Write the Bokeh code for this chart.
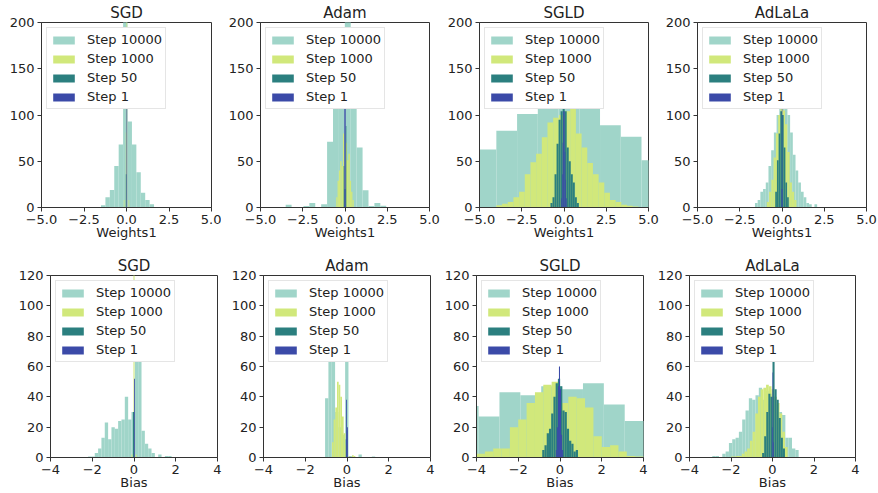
import numpy as np
from bokeh.plotting import figure
from bokeh.layouts import column, row
from bokeh.models import Range1d, FixedTicker
from bokeh.embed import file_html
from bokeh.resources import INLINE

OPTIMIZERS = ["SGD", "Adam", "SGLD", "AdLaLa"]
STEPS = ["Step 10000", "Step 1000", "Step 50", "Step 1"]
COLORS = ["#a0d5c9", "#d1e87b", "#2b7f7f", "#3b4aa8"]

W_XTICKS = [-5.0, -2.5, 0.0, 2.5, 5.0]
W_XLABELS = ["\u22125.0", "\u22122.5", "0.0", "2.5", "5.0"]
W_YTICKS = [0, 50, 100, 150, 200]
B_XTICKS = [-4, -2, 0, 2, 4]
B_XLABELS = ["\u22124", "\u22122", "0", "2", "4"]
B_YTICKS = [0, 20, 40, 60, 80, 100, 120]

# Each histogram: (first bin edge, bin width, counts per bin)
# ---- Weights1 ----
sgd_w_10000 = (-1.5, 0.26, [2.5, 11, 19, 45, 68, 230, 93, 68, 38, 16, 8, 3.6])
sgd_w_1000 = (-0.16, 0.04, [8, 0, 0, 81, 210, 0, 0, 8])
sgd_w_50 = (-0.04, 0.04, [36])
sgd_w_1 = (0.0, 0.04, [120])

adam_w_10000 = (-3.51, 0.35, [3, 0, 0, 1.5, 5, 0, 3.6, 71, 140, 180, 204, 125, 65, 18.6, 1.5, 5, 2])
adam_w_1000 = (-0.52, 0.08, [11, 29, 40, 50, 45, 80, 30, 70, 51, 58, 29, 17, 8])
adam_w_50 = (-0.12, 0.04, [0, 45, 20, 20, 88])
adam_w_1 = (-0.04, 0.08, [115])

sgld_w_10000 = (-5.23, 1.227, [62.6, 83, 101, 110, 112, 108, 89, 76.6, 51])
sgld_w_1000 = (-4.0, 0.336, [2.5, 4, 6, 11, 17, 36, 49, 58, 76, 92, 97, 100, 104, 108,
                             80, 65, 48, 36, 27, 16, 8, 6, 3, 2, 1])
sgld_w_50 = (-0.8, 0.12, [5, 11, 36, 69, 95, 104, 110, 104, 65, 50, 36, 27, 11, 5])
sgld_w_1 = (-0.16, 0.04, [10, 36, 70, 104, 104, 60, 30, 10])

adla_w_10000 = (-1.6, 0.16, [5, 8, 17, 20, 27, 45, 62, 81, 100, 115, 118, 110, 100, 81,
                             57, 40, 27, 17, 11, 5, 3.6, 0, 3.6])
adla_w_1000 = (-0.9, 0.135, [6, 17, 30, 54, 80, 100, 110, 105, 90, 60, 27, 17, 8])
adla_w_50 = (-0.4, 0.1, [17, 51, 80, 104, 100, 65, 27, 11])
adla_w_1 = (-0.04, 0.03, [20, 108, 20])

# ---- Bias ----
sgd_b_10000 = (-2.2, 0.16, [0.7, 0.7, 3, 6, 13, 23, 12, 20, 19, 24, 25, 40, 25, 30, 66, 66,
                            17.6, 9, 6, 3, 0, 2, 0, 1, 1])
sgd_b_1000 = (-0.125, 0.05, [2, 0, 130, 0, 2])
sgd_b_50 = (-0.05, 0.05, [30])
sgd_b_1 = (0.0, 0.04, [52])

adam_b_10000 = (-1.05, 0.16, [39, 75, 70, 30, 20, 15, 68, 1, 0, 0, 2, 0, 0, 0, 0.7])
adam_b_1000 = (-0.72, 0.08, [10, 25, 33, 50, 48, 40, 27, 16, 8, 0, 0.7, 0, 1.5, 1])
adam_b_50 = (-0.06, 0.04, [12, 18])
adam_b_1 = (-0.04, 0.04, [38, 20])

sgld_b_10000 = (-4.9, 1.0, [34, 27, 43, 41, 47, 45, 49, 35, 24])
sgld_b_1000 = (-4.0, 0.4, [2.5, 4, 6, 6, 20, 25, 36, 43, 48, 50, 36, 40, 39, 33, 14, 7, 8, 4, 1, 0.7])
sgld_b_50 = (-0.85, 0.107, [5, 8, 16, 19, 29, 40, 49, 52, 47, 31, 30, 19, 11, 9, 4, 5])
sgld_b_1 = (-0.2, 0.05, [5, 20, 47, 60, 45, 15, 5])

adla_b_10000 = (-2.9, 0.16, [1, 1, 0, 2.5, 4, 9.5, 12, 13, 17, 25, 31, 39, 38, 41, 46, 38, 44,
                             42, 40, 35, 30, 28, 13, 13, 6, 5])
adla_b_1000 = (-2.0, 0.13, [0.7, 0.7, 1, 1, 2.5, 4, 6, 11, 17, 29, 40, 45, 46, 48, 47, 45, 40,
                            36, 29, 17, 7])
adla_b_50 = (-0.5, 0.1, [3, 14, 30, 42, 40, 63, 45, 38, 26, 13, 6])
adla_b_1 = (-0.03, 0.03, [20, 56, 10])

WEIGHTS = [
    [sgd_w_10000, sgd_w_1000, sgd_w_50, sgd_w_1],
    [adam_w_10000, adam_w_1000, adam_w_50, adam_w_1],
    [sgld_w_10000, sgld_w_1000, sgld_w_50, sgld_w_1],
    [adla_w_10000, adla_w_1000, adla_w_50, adla_w_1],
]
BIASES = [
    [sgd_b_10000, sgd_b_1000, sgd_b_50, sgd_b_1],
    [adam_b_10000, adam_b_1000, adam_b_50, adam_b_1],
    [sgld_b_10000, sgld_b_1000, sgld_b_50, sgld_b_1],
    [adla_b_10000, adla_b_1000, adla_b_50, adla_b_1],
]

FONT = "DejaVu Sans"
TEXT = "#222222"
SPINE = "#333333"


def make_panel(title, hists, xr, yr, xticks, xlabels, yticks, xlabel, lb, fw, rb, tb, fh, bb):
    p = figure(width=lb + fw + rb, height=tb + fh + bb,
               x_range=Range1d(*xr), y_range=Range1d(*yr),
               output_backend="svg", toolbar_location=None,
               min_border_left=lb, min_border_right=rb,
               min_border_top=tb, min_border_bottom=bb, title=title)
    for (start, width, counts), step, color in zip(hists, STEPS, COLORS):
        c = np.asarray(counts, dtype=float)
        left = start + width * np.arange(len(c))
        p.quad(left=left, right=left + width, bottom=0, top=c,
               fill_color=color, line_color=None, legend_label=step)
    p.title.text_font = FONT
    p.title.text_font_size = "15px"
    p.title.text_font_style = "normal"
    p.title.text_color = TEXT
    p.title.align = "center"
    p.title.standoff = 2

    p.xaxis.ticker = FixedTicker(ticks=xticks)
    p.xaxis.major_label_overrides = {t: l for t, l in zip(xticks, xlabels)}
    p.yaxis.ticker = FixedTicker(ticks=yticks)
    p.axis.minor_tick_line_color = None
    p.axis.major_tick_out = 4
    p.axis.major_tick_in = 0
    p.axis.major_tick_line_color = SPINE
    p.axis.axis_line_color = SPINE
    p.axis.major_label_text_font = FONT
    p.axis.major_label_text_font_size = "13px"
    p.axis.major_label_text_color = TEXT
    p.xaxis.major_label_standoff = 3
    p.yaxis.major_label_standoff = 3
    p.xaxis.axis_label = xlabel
    p.xaxis.axis_label_text_font = FONT
    p.xaxis.axis_label_text_font_size = "13px"
    p.xaxis.axis_label_text_font_style = "normal"
    p.xaxis.axis_label_text_color = TEXT
    p.xaxis.axis_label_standoff = -2
    p.xgrid.grid_line_color = None
    p.ygrid.grid_line_color = None
    p.outline_line_color = SPINE
    p.outline_line_alpha = 1.0
    p.background_fill_color = "white"
    p.border_fill_color = "white"

    lg = p.legend[0]
    lg.location = "top_left"
    lg.margin = 5
    lg.padding = 3
    lg.spacing = 2
    lg.label_height = 17
    lg.glyph_height = 10
    lg.glyph_width = 27
    lg.label_standoff = 10
    lg.label_text_font = FONT
    lg.label_text_font_size = "13px"
    lg.label_text_color = TEXT
    lg.border_line_color = "#cccccc"
    lg.background_fill_alpha = 1.0
    return p


row1_geom = [(41, 170, 10), (39, 169, 11), (39, 169, 11), (38, 169, 12)]
row2_geom = [(50, 167, 11), (35, 167, 11), (35, 167, 11), (35, 166, 23)]

r1 = []
for name, hists, (lb, fw, rb) in zip(OPTIMIZERS, WEIGHTS, row1_geom):
    r1.append(make_panel(name, hists, (-5, 5), (0, 200), W_XTICKS, W_XLABELS, W_YTICKS,
                         "Weights1", lb, fw, rb, 21, 186, 39))
r2 = []
for name, hists, (lb, fw, rb) in zip(OPTIMIZERS, BIASES, row2_geom):
    r2.append(make_panel(name, hists, (-4, 4), (0, 120), B_XTICKS, B_XLABELS, B_YTICKS,
                         "Bias", lb, fw, rb, 29, 182, 36))

layout = column(row(*r1), row(*r2))
open("out.html", "w").write(file_html(layout, INLINE, "Histograms"))
